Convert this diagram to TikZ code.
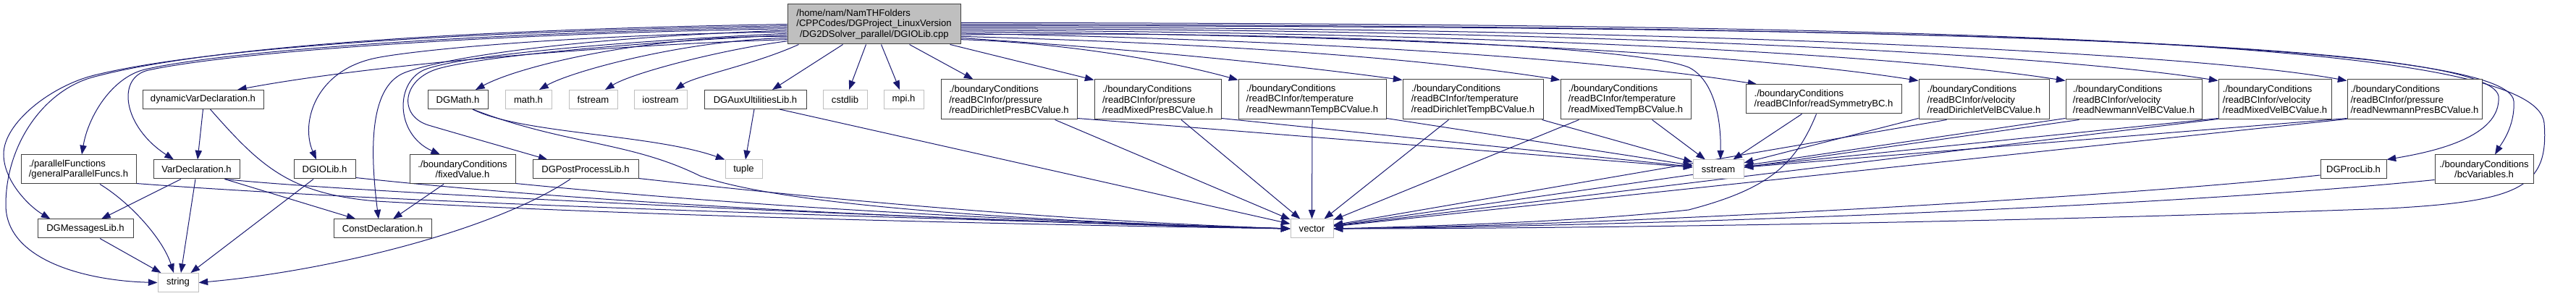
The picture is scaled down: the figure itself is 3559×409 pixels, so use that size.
\documentclass[tikz,border=0pt]{standalone}
\usepackage{fontspec}
\setmainfont{Liberation Sans}
\usetikzlibrary{arrows.meta,calc}
\definecolor{edgec}{HTML}{191970}
\definecolor{boxc}{HTML}{404040}
\definecolor{greyc}{HTML}{BFBFBF}
\pgfdeclarelayer{bg}
\pgfsetlayers{bg,main}
\tikzset{
  hbox/.style={draw=boxc, fill=white, line width=0.75pt, inner sep=0pt,
    font=\fontsize{9.8pt}{10.9pt}\selectfont, align=left},
  gbox/.style={hbox, draw=greyc},
  sz/.style 2 args={minimum width={#1*0.75pt}, minimum height={#2*0.75pt}},
  edge/.style={draw=edgec, color=edgec, line width=0.75pt,
    -{Triangle[length=9.5pt,width=7pt]}},
}
\begin{document}
\begin{tikzpicture}[x=0.75pt,y=-0.75pt]
\useasboundingbox (0,0) rectangle (3559,409);
% nodes
\node[hbox,sz={239}{55},fill=greyc] (main) at (1207.5,33.5) {/home/nam/NamTHFolders\\/CPPCodes/DGProject\_LinuxVersion\\\hspace*{3.5pt}/DG2DSolver\_parallel/DGIOLib.cpp};
\node[hbox,sz={167}{26}] (dynVar) at (280.5,137.5) {dynamicVarDeclaration.h};
\node[hbox,sz={159}{40}] (parallel) at (108.5,234) {./parallelFunctions\\/generalParallelFuncs.h};
\node[hbox,sz={119}{26}] (varDecl) at (271.5,234) {VarDeclaration.h};
\node[hbox,sz={85}{26}] (dgiolibh) at (448.5,234) {DGIOLib.h};
\node[hbox,sz={132}{26}] (msgs) at (118,316) {DGMessagesLib.h};
\node[gbox,sz={56}{26}] (string) at (246,390.5) {string};
\node[hbox,sz={135}{26}] (constDecl) at (528.5,316) {ConstDeclaration.h};
\node[hbox,sz={83}{26}] (dgmath) at (632.5,137.5) {DGMath.h};
\node[gbox,sz={64}{26}] (mathh) at (730,137.5) {math.h};
\node[gbox,sz={67}{26}] (fstream) at (819.5,137.5) {fstream};
\node[gbox,sz={73}{26}] (iostream) at (912.5,137.5) {iostream};
\node[hbox,sz={141}{26}] (dgaux) at (1043.5,137.5) {DGAuxUltilitiesLib.h};
\node[gbox,sz={61}{26}] (cstdlib) at (1167.5,137.5) {cstdlib};
\node[gbox,sz={55}{26}] (mpih) at (1248.5,137.5) {mpi.h};
\node[hbox,sz={146}{40},align=center] (fixed) at (639,234) {./boundaryConditions\\/fixedValue.h};
\node[hbox,sz={146}{26}] (postproc) at (809,234) {DGPostProcessLib.h};
\node[gbox,sz={51}{26}] (tuple) at (1027.5,234) {tuple};
\node[hbox,sz={188}{55}] (rdPres) at (1394,137.5) {./boundaryConditions\\/readBCInfor/pressure\\/readDirichletPresBCValue.h};
\node[hbox,sz={175}{55}] (rmPres) at (1599.5,137.5) {./boundaryConditions\\/readBCInfor/pressure\\/readMixedPresBCValue.h};
\node[hbox,sz={204}{55}] (rnTemp) at (1813,137.5) {./boundaryConditions\\/readBCInfor/temperature\\/readNewmannTempBCValue.h};
\node[hbox,sz={194}{55}] (rdTemp) at (2035,137.5) {./boundaryConditions\\/readBCInfor/temperature\\/readDirichletTempBCValue.h};
\node[hbox,sz={180}{55}] (rmTemp) at (2246,137.5) {./boundaryConditions\\/readBCInfor/temperature\\/readMixedTempBCValue.h};
\node[hbox,sz={215}{40}] (rSym) at (2519.5,137) {./boundaryConditions\\/readBCInfor/readSymmetryBC.h};
\node[hbox,sz={180}{55}] (rdVel) at (2741,137.5) {./boundaryConditions\\/readBCInfor/velocity\\/readDirichletVelBCValue.h};
\node[hbox,sz={188}{55}] (rnVel) at (2948,137.5) {./boundaryConditions\\/readBCInfor/velocity\\/readNewmannVelBCValue.h};
\node[hbox,sz={156}{55}] (rmVel) at (3143,137.5) {./boundaryConditions\\/readBCInfor/velocity\\/readMixedVelBCValue.h};
\node[hbox,sz={186}{55}] (rnPres) at (3336,137.5) {./boundaryConditions\\/readBCInfor/pressure\\/readNewmannPresBCValue.h};
\node[gbox,sz={59}{26}] (vector) at (1812.5,316) {vector};
\node[gbox,sz={70}{26}] (sstream) at (2374,234) {sstream};
\node[hbox,sz={91}{26}] (procLib) at (3251.5,234) {DGProcLib.h};
\node[hbox,sz={136}{40},align=center] (bcVar) at (3432,234) {./boundaryConditions\\/bcVariables.h};

\begin{pgfonlayer}{bg}
% main -> left bundle
\draw[edge] (main.180) .. controls (700,40) and (300,60) .. (127,107) .. controls (60,126) and (8,200) .. (8,283) .. controls (8,360) and (120,388) .. (string.west);
\draw[edge] (main.181) .. controls (700,42) and (300,62) .. (130,104) .. controls (70,119) and (5,170) .. (5,213) .. controls (5,250) and (40,285) .. ($(msgs.north west)+(18,0)$);
\draw[edge] (main.182) .. controls (700,44) and (320,68) .. (200,96) .. controls (155,107) and (122,160) .. ($(parallel.north)+(4.5,0)$);
\draw[edge] (main.183) .. controls (700,46) and (330,70) .. (205,97) .. controls (160,107) and (170,175) .. ($(varDecl.north)+(-31.5,0)$);
\draw[edge] (main.185) .. controls (800,48) and (580,68) .. (520,80) .. controls (435,97) and (415,170) .. ($(dgiolibh.north)+(-11.5,0)$);
\draw[edge] (main.190) .. controls (850,62) and (520,88) .. ($(dynVar.north)+(47.5,0)$);
\draw[edge] (main.184) .. controls (800,52) and (620,78) .. (560,100) .. controls (512,118) and (510,200) .. ($(constDecl.north)+(-5.5,0)$);
\draw[edge] (main.186) .. controls (850,58) and (650,75) .. (590,95) .. controls (545,110) and (545,185) .. ($(fixed.north)+(-31,0)$);
\draw[edge] (main.187) .. controls (860,60) and (665,78) .. (605,95) .. controls (555,110) and (550,160) .. (592,173) .. controls (650,190) and (710,207) .. ($(postproc.north west)+(21,0)$);
\draw[edge] (main.188) .. controls (900,48) and (720,90) .. ($(dgmath.north)+(24.5,0)$);
\draw[edge] (main.189) .. controls (950,55) and (790,98) .. ($(mathh.north)+(15,0)$);
\draw[edge] (main.191) .. controls (1000,68) and (875,100) .. ($(fstream.north)+(16.5,0)$);
\draw[edge] ($(main.south west)+(16,0)$) .. controls (1040,90) and (960,105) .. ($(iostream.north)+(20.5,0)$);
% main -> below
\draw[edge] ($(main.south west)+(77,0)$) -- ($(dgaux.north)+(23.5,0)$);
\draw[edge] ($(main.south west)+(109,0)$) -- ($(cstdlib.north)+(5.5,0)$);
\draw[edge] ($(main.south west)+(130,0)$) -- ($(mpih.north)+(-5.5,0)$);
\draw[edge] ($(main.south west)+(169,0)$) -- ($(rdPres.north west)+(45,0)$);
\draw[edge] ($(main.south east)+(-15,0)$) -- ($(rmPres.north west)+(0,1)$);
% main -> right
\draw[edge] (main.-10) .. controls (1450,58) and (1600,80) .. ($(rnTemp.north west)+(0,1)$);
\draw[edge] (main.-9) .. controls (1600,70) and (1800,92) .. ($(rdTemp.north west)+(0,1)$);
\draw[edge] (main.-8) .. controls (1750,62) and (2000,86) .. ($(rmTemp.north west)+(0,1)$);
\draw[edge] (main.-7) .. controls (1700,42) and (2250,60) .. (2333,93) .. controls (2362,107) and (2378,150) .. ($(sstream.north)+(3,0)$);
\draw[edge] (main.-6) .. controls (1800,55) and (2200,80) .. ($(rSym.north west)+(16,0)$);
\draw[edge] (main.-5) .. controls (1900,48) and (2400,72) .. ($(rdVel.north west)+(0,2)$);
\draw[edge] (main.-4) .. controls (2000,44) and (2600,72) .. ($(rnVel.north west)+(0,2)$);
\draw[edge] (main.-3) .. controls (2100,40) and (2800,70) .. ($(rmVel.north west)+(0,2)$);
\draw[edge] (main.-2) .. controls (2200,37) and (3000,68) .. ($(rnPres.north west)+(0,2)$);
\draw[edge] (main.-1) .. controls (2600,36) and (3440,55) .. (3452,133) .. controls (3456,190) and (3360,210) .. (procLib.north east);
\draw[edge] (main.0) .. controls (2700,36) and (3468,60) .. (3473,140) .. controls (3475,175) and (3455,200) .. ($(bcVar.north)+(15,0)$);
\draw[edge] (main.1) .. controls (2800,33) and (3505,60) .. (3515,170) .. controls (3522,260) and (3480,278) .. (3300,288) .. controls (2700,310) and (2100,316) .. (vector.east);
% left group
\draw[edge] (dynVar.south) -- ($(varDecl.north)+(1.5,0)$);
\draw[edge] ($(dynVar.south)+(10,0)$) .. controls (360,230) and (400,268) .. (520,278) .. controls (900,300) and (1500,312) .. (vector.west);
\draw[edge] ($(parallel.south)+(29.5,0)$) .. controls (180,280) and (225,330) .. ($(string.north)+(-6,0)$);
\draw[edge] ($(parallel.south east)+(0,-1)$) .. controls (600,285) and (1400,305) .. (vector.west);
\draw[edge] ($(varDecl.south)+(-21.5,0)$) -- ($(msgs.north)+(22,0)$);
\draw[edge] ($(varDecl.south)+(-1.5,0)$) -- ($(string.north)+(4,0)$);
\draw[edge] ($(varDecl.south east)+(-21,0)$) -- ($(constDecl.north west)+(31,0)$);
\draw[edge] ($(varDecl.south east)+(-21,0)$) .. controls (500,268) and (1400,308) .. (vector.west);
\draw[edge] ($(dgiolibh.south)+(-15.5,0)$) -- ($(string.north east)+(-11,0)$);
\draw[edge] ($(dgiolibh.south east)+(0,-2)$) .. controls (900,290) and (1500,310) .. (vector.west);
\draw[edge] ($(msgs.south)+(20,0)$) -- ($(string.north west)+(5,0)$);
\draw[edge] ($(fixed.south)+(-26,0)$) -- ($(constDecl.north)+(14.5,0)$);
\draw[edge] ($(fixed.south east)+(0,-1)$) .. controls (1100,292) and (1500,308) .. (vector.west);
\draw[edge] ($(postproc.south)+(-21,0)$) .. controls (680,320) and (450,375) .. (string.east);
\draw[edge] ($(postproc.south east)+(0,-1)$) .. controls (1200,282) and (1500,306) .. (vector.west);
\draw[edge] ($(dgmath.south)+(20.5,0)$) .. controls (720,185) and (900,185) .. (tuple.north west);
\draw[edge] ($(dgmath.south)+(20.5,0)$) .. controls (780,200) and (870,195) .. (967,243) .. controls (1100,290) and (1500,308) .. (vector.west);
\draw[edge] ($(dgaux.south)+(-1.5,0)$) -- ($(tuple.north)+(2.5,0)$);
\draw[edge] ($(dgaux.south)+(33.5,0)$) -- (vector);
% BC readers
\draw[edge] ($(rdPres.south east)+(-31,0)$) -- (vector);
\draw[edge] ($(rdPres.south east)+(0,-2)$) -- (sstream);
\draw[edge] ($(rmPres.south)+(32.5,0)$) -- (vector);
\draw[edge] ($(rmPres.south east)+(0,-2)$) -- (sstream);
\draw[edge] (rnTemp.south) -- (vector.north);
\draw[edge] ($(rnTemp.south east)+(0,-2)$) -- (sstream);
\draw[edge] ($(rdTemp.south west)+(64,0)$) -- (vector);
\draw[edge] ($(rdTemp.south east)+(-2,0)$) -- (sstream);
\draw[edge] ($(rmTemp.south west)+(26,0)$) -- (vector);
\draw[edge] ($(rmTemp.south east)+(-54,0)$) -- (sstream);
\draw[edge] ($(rSym.south west)+(78,0)$) -- (sstream);
\draw[edge] ($(rSym.south west)+(98,0)$) .. controls (2480,230) and (2440,262) .. (2333,290) .. controls (2200,305) and (2000,312) .. (vector.east);
\draw[edge] ($(rdVel.south west)+(0,-2)$) -- (sstream);
\draw[edge] ($(rdVel.south west)+(39,0)$) -- (vector);
\draw[edge] ($(rnVel.south west)+(0,-2)$) -- (sstream);
\draw[edge] ($(rnVel.south west)+(19,0)$) -- (vector);
\draw[edge] ($(rmVel.south west)+(0,-2)$) -- (sstream);
\draw[edge] ($(rmVel.south west)+(0,-1)$) -- (vector);
\draw[edge] ($(rnPres.south west)+(0,-2)$) -- (sstream);
\draw[edge] ($(rnPres.south west)+(0,-1)$) -- (vector);
\draw[edge] ($(procLib.west)+(0,8)$) .. controls (2900,275) and (2200,312) .. (vector.east);
\draw[edge] ($(bcVar.south west)+(0,-6)$) .. controls (3000,285) and (2300,312) .. (vector.east);
\end{pgfonlayer}
\end{tikzpicture}
\end{document}
